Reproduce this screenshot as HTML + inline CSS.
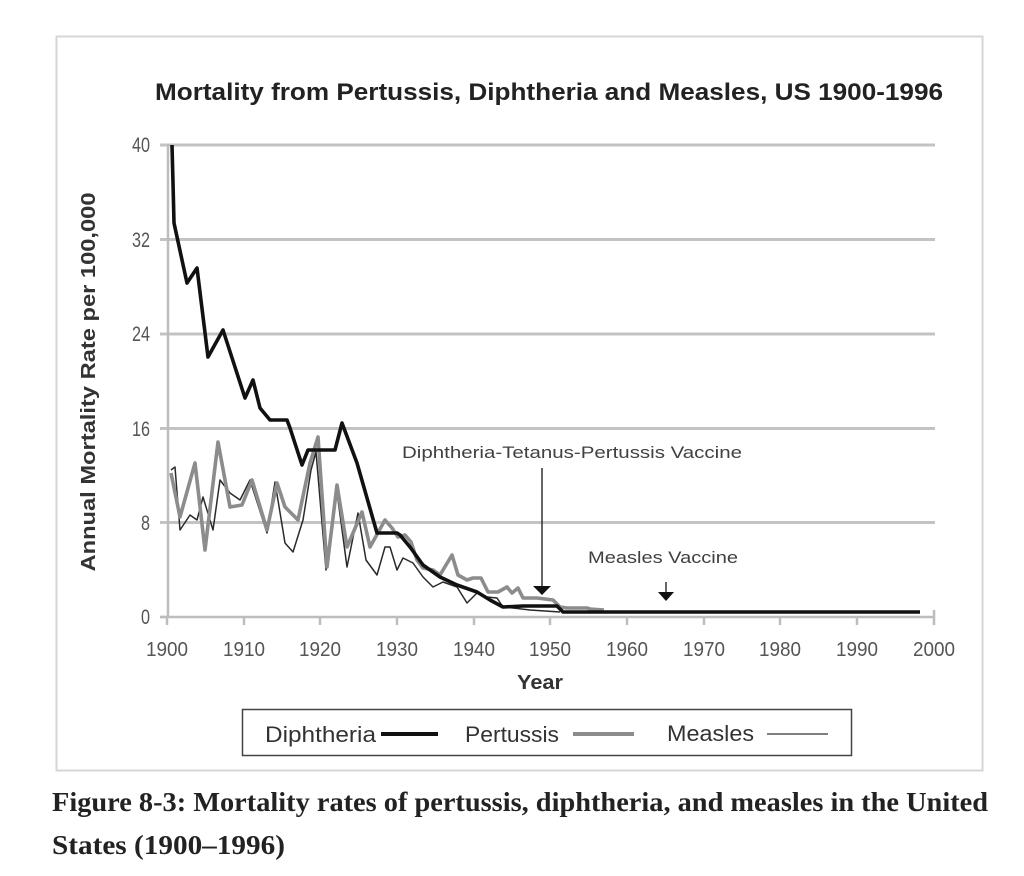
<!DOCTYPE html>
<html><head><meta charset="utf-8"><style>
html,body{margin:0;padding:0;background:#fff;}
svg{display:block;}
</style></head><body>
<svg width="1024" height="876" viewBox="0 0 1024 876" xmlns="http://www.w3.org/2000/svg">
<rect x="0" y="0" width="1024" height="876" fill="#fff"/>
<!-- outer chart box -->
<rect x="56.5" y="36.5" width="926" height="734" fill="#fff" stroke="#d6d6d6" stroke-width="2"/>
<!-- title -->
<text x="155" y="100" font-family="Liberation Sans, sans-serif" font-weight="bold" font-size="24" fill="#222" textLength="788" lengthAdjust="spacingAndGlyphs">Mortality from Pertussis, Diphtheria and Measles, US 1900-1996</text>
<!-- gridlines -->
<g stroke="#c3c3c3" stroke-width="3">
<line x1="160" y1="145" x2="935" y2="145"/>
<line x1="160" y1="239.5" x2="935" y2="239.5"/>
<line x1="160" y1="334" x2="935" y2="334"/>
<line x1="160" y1="428.5" x2="935" y2="428.5"/>
<line x1="160" y1="522.5" x2="935" y2="522.5"/>
</g>
<!-- axes -->
<g stroke="#bdbdbd" stroke-width="2.5">
<line x1="168" y1="144" x2="168" y2="617"/>
<line x1="160" y1="617" x2="935" y2="617"/>
<line x1="160" y1="617" x2="168" y2="617"/>
<line x1="167" y1="617" x2="167" y2="625"/>
<line x1="244" y1="617" x2="244" y2="625"/>
<line x1="320" y1="617" x2="320" y2="625"/>
<line x1="397" y1="617" x2="397" y2="625"/>
<line x1="474" y1="617" x2="474" y2="625"/>
<line x1="550" y1="617" x2="550" y2="625"/>
<line x1="627" y1="617" x2="627" y2="625"/>
<line x1="704" y1="617" x2="704" y2="625"/>
<line x1="780" y1="617" x2="780" y2="625"/>
<line x1="857" y1="617" x2="857" y2="625"/>
<line x1="934" y1="610" x2="934" y2="625"/>
</g>
<!-- y tick labels -->
<g font-family="Liberation Sans, sans-serif" font-size="21" fill="#555" text-anchor="end">
<text x="150" y="152" textLength="18" lengthAdjust="spacingAndGlyphs">40</text>
<text x="150" y="247" textLength="18" lengthAdjust="spacingAndGlyphs">32</text>
<text x="150" y="341" textLength="18" lengthAdjust="spacingAndGlyphs">24</text>
<text x="150" y="436" textLength="18" lengthAdjust="spacingAndGlyphs">16</text>
<text x="150" y="530" textLength="9" lengthAdjust="spacingAndGlyphs">8</text>
<text x="150" y="624" textLength="9" lengthAdjust="spacingAndGlyphs">0</text>
</g>
<!-- x tick labels -->
<g font-family="Liberation Sans, sans-serif" font-size="20" fill="#555" text-anchor="middle">
<text x="167" y="656" textLength="42" lengthAdjust="spacingAndGlyphs">1900</text>
<text x="244" y="656" textLength="42" lengthAdjust="spacingAndGlyphs">1910</text>
<text x="320" y="656" textLength="42" lengthAdjust="spacingAndGlyphs">1920</text>
<text x="397" y="656" textLength="42" lengthAdjust="spacingAndGlyphs">1930</text>
<text x="474" y="656" textLength="42" lengthAdjust="spacingAndGlyphs">1940</text>
<text x="550" y="656" textLength="42" lengthAdjust="spacingAndGlyphs">1950</text>
<text x="627" y="656" textLength="42" lengthAdjust="spacingAndGlyphs">1960</text>
<text x="704" y="656" textLength="42" lengthAdjust="spacingAndGlyphs">1970</text>
<text x="780" y="656" textLength="42" lengthAdjust="spacingAndGlyphs">1980</text>
<text x="857" y="656" textLength="42" lengthAdjust="spacingAndGlyphs">1990</text>
<text x="934" y="656" textLength="42" lengthAdjust="spacingAndGlyphs">2000</text>
</g>
<!-- axis titles -->
<text x="540" y="689" font-family="Liberation Sans, sans-serif" font-weight="bold" font-size="20" fill="#333" text-anchor="middle" textLength="46" lengthAdjust="spacingAndGlyphs">Year</text>
<text transform="translate(95,382) rotate(-90)" x="0" y="0" font-family="Liberation Sans, sans-serif" font-weight="bold" font-size="20" fill="#333" text-anchor="middle" textLength="379" lengthAdjust="spacingAndGlyphs">Annual Mortality Rate per 100,000</text>

<!-- series: measles (thin) -->
<polyline fill="none" stroke="#2a2a2a" stroke-width="1.5" stroke-linejoin="round" points="171,470 175,467 180,530 190,515 197,520 203,497 213,530 220,480 230,493 240,500 250,480 267,533 275,482 285,543 293,552 303,520 311,470 316,452 326,570 337,492 347,567 358,513 366,560 377,575 385,547 390,547 397,570 403,558 413,563 423,577 433,587 443,582 457,587 467,603 477,593 487,597 497,598 503,607 513,608 530,610 560,612"/>
<!-- series: pertussis (thick gray) -->
<polyline fill="none" stroke="#8c8c8c" stroke-width="3.6" stroke-linejoin="round" points="171,473 180,517 195,463 205,550 218,442 230,507 242,505 252,480 267,530 277,483 285,507 298,520 310,463 318,437 327,567 337,485 347,547 362,512 370,547 385,520 392,528 398,537 405,535 411,542 417,560 423,568 433,570 440,575 452,555 458,575 467,580 473,578 481,578 488,592 498,592 507,587 512,593 518,588 523,598 537,598 553,600 560,607 567,608 587,608 590,609 604,610"/>
<!-- series: diphtheria (thick black) -->
<polyline fill="none" stroke="#111" stroke-width="3.6" stroke-linejoin="round" points="172,145 173,183 174,223 187,283 197,268 208,357 223,330 245,398 253,380 260,408 270,420 287,420 290,428 302,465 308,450 335,450 342,423 357,463 377,533 397,533 400,535 410,547 423,565 440,577 457,585 477,592 490,600 503,607 523,606 557,606 563,612 920,612"/>

<!-- annotations -->
<text x="402" y="458" font-family="Liberation Sans, sans-serif" font-size="17" fill="#404040" textLength="340" lengthAdjust="spacingAndGlyphs">Diphtheria-Tetanus-Pertussis Vaccine</text>
<line x1="542" y1="468" x2="542" y2="588" stroke="#333" stroke-width="1.5"/>
<polygon points="533,586 551,586 542,595" fill="#111"/>
<text x="588" y="563" font-family="Liberation Sans, sans-serif" font-size="17" fill="#404040" textLength="150" lengthAdjust="spacingAndGlyphs">Measles Vaccine</text>
<line x1="666" y1="582" x2="666" y2="594" stroke="#333" stroke-width="1.5"/>
<polygon points="658,592 674,592 666,601" fill="#111"/>

<!-- legend -->
<rect x="242.5" y="709.5" width="609" height="46" fill="#fff" stroke="#444" stroke-width="1.5"/>
<g font-family="Liberation Sans, sans-serif" font-size="22" fill="#333">
<text x="265" y="742" textLength="111" lengthAdjust="spacingAndGlyphs">Diphtheria</text>
<text x="465" y="742" textLength="94" lengthAdjust="spacingAndGlyphs">Pertussis</text>
<text x="667" y="741" textLength="87" lengthAdjust="spacingAndGlyphs">Measles</text>
</g>
<line x1="381" y1="734" x2="438" y2="734" stroke="#111" stroke-width="4"/>
<line x1="573" y1="734" x2="634" y2="734" stroke="#8c8c8c" stroke-width="4"/>
<line x1="767" y1="734" x2="828" y2="734" stroke="#333" stroke-width="1.3"/>

<!-- caption -->
<g font-family="Liberation Serif, serif" font-weight="bold" font-size="27" fill="#222">
<text x="52" y="811" textLength="936" lengthAdjust="spacingAndGlyphs">Figure 8-3: Mortality rates of pertussis, diphtheria, and measles in the United</text>
<text x="52" y="854" textLength="233" lengthAdjust="spacingAndGlyphs">States (1900–1996)</text>
</g>
</svg>
</body></html>
